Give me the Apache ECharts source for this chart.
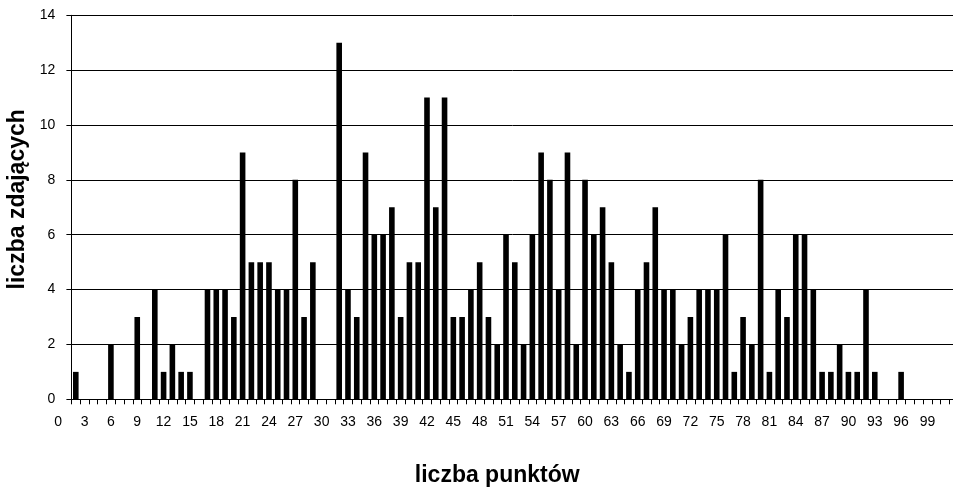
<!DOCTYPE html>
<html>
<head>
<meta charset="utf-8">
<title>liczba zdających</title>
<script src="https://cdn.jsdelivr.net/npm/echarts@6/dist/echarts.min.js"></script>
<style>
  html, body { margin: 0; padding: 0; background: #ffffff; }
  #chart { width: 953px; height: 489px; }
</style>
</head>
<body>
<div id="chart"></div>
<script>
// Tick labels printed under the category axis (every third one is shown)
const tickLabels = [
  '0','1','2','3','4','5','6','7','8','9','10','11','12','13','14','15','16','17','18','19',
  '20','21','22','23','24','25','26','27','28','29','30','31','32','33','34','35','36','37','38','39',
  '40','41','42','43','44','45','46','47','48','49','50','51','52','53','54','55','56','57','58','59',
  '60','61','62','63','64','65','66','67','68','69','70','71','72','73','74','75','76','77','78','79',
  '80','81','82','83','84','85','86','87','88','89','90','91','92','93','94','95','96','97','98','99','100'
];

// Score (liczba punktów) represented by each bar
const scores = [
  '2','3','4','5','6','7','8','9','10','11','12','13','14','15','16','17','18','19','20','21',
  '22','23','24','25','26','27','28','29','30','31','32','33','34','35','36','37','38','39','40','41',
  '42','43','44','45','46','47','48','49','50','51','52','53','54','55','56','57','58','59','60','61',
  '62','63','64','65','66','67','68','69','70','71','72','73','74','75','76','77','78','79','80','81',
  '82','83','84','85','86','87','88','89','90','91','92','93','94','95','96','97','98','99','100','101','102'
];

// Number of candidates (liczba zdających) with each score
const counts = [
  1, 0, 0, 0, 2, 0, 0, 3, 0, 4,
  1, 2, 1, 1, 0, 4, 4, 4, 3, 9,
  5, 5, 5, 4, 4, 8, 3, 5, 0, 0,
  13, 4, 3, 9, 6, 6, 7, 3, 5, 5,
  11, 7, 11, 3, 3, 4, 5, 3, 2, 6,
  5, 2, 6, 9, 8, 4, 9, 2, 8, 6,
  7, 5, 2, 1, 4, 5, 7, 4, 4, 2,
  3, 4, 4, 4, 6, 1, 3, 2, 8, 1,
  4, 3, 6, 6, 4, 1, 1, 2, 1, 1,
  4, 1, 0, 0, 1, 0, 0, 0, 0, 0, 0
];

// Value axis range
const yMin = 0;
const yMax = 14;
const yStep = 2;

const FONT = '"Liberation Sans", Arial, Helvetica, sans-serif';
const SLOT = 8.78;              // width of one category slot in px
const PLOT_LEFT = 71.4;
const PLOT_TOP = 15.3;
const PLOT_HEIGHT = 384;
const PLOT_WIDTH = SLOT * counts.length;

const chart = echarts.init(document.getElementById('chart'), null, { renderer: 'canvas' });

chart.setOption({
  animation: false,
  backgroundColor: '#ffffff',
  textStyle: { fontFamily: FONT, color: '#000' },
  grid: [
    // plot area with the bars
    { left: PLOT_LEFT, top: PLOT_TOP, width: PLOT_WIDTH, height: PLOT_HEIGHT,
      containLabel: false, outerBoundsMode: 'none' },
    // label band: shifted two slots to the left
    { left: PLOT_LEFT - 2 * SLOT, top: PLOT_TOP, width: SLOT * tickLabels.length, height: PLOT_HEIGHT,
      containLabel: false, outerBoundsMode: 'none' }
  ],
  xAxis: [
    {
      type: 'category',
      gridIndex: 0,
      data: scores,
      boundaryGap: true,
      axisLine: { show: true, lineStyle: { color: '#000', width: 1 } },
      axisTick: { show: true, interval: 0, length: 5, inside: false, lineStyle: { color: '#000' } },
      axisLabel: { show: false },
      splitLine: { show: false }
    },
    {
      type: 'category',
      gridIndex: 1,
      data: tickLabels,
      boundaryGap: true,
      axisLine: { show: false },
      axisTick: { show: false },
      axisLabel: { show: true, interval: 2, margin: 16, fontSize: 14, color: '#000', fontFamily: FONT },
      splitLine: { show: false },
      name: 'liczba punktów',
      nameLocation: 'middle',
      nameGap: 65,
      nameTextStyle: { fontSize: 23, fontWeight: 'bold', color: '#000', fontFamily: FONT }
    }
  ],
  yAxis: [
    {
      type: 'value',
      gridIndex: 0,
      min: yMin,
      max: yMax,
      interval: yStep,
      axisLine: { show: true, lineStyle: { color: '#000', width: 1 } },
      axisTick: { show: true, length: 5, lineStyle: { color: '#000' } },
      axisLabel: { fontSize: 14, color: '#000', margin: 16, fontFamily: FONT },
      splitLine: { show: true, lineStyle: { color: '#000', width: 1 } },
      name: 'liczba zdających',
      nameLocation: 'middle',
      nameRotate: 90,
      nameGap: 39,
      nameTextStyle: { fontSize: 23, fontWeight: 'bold', color: '#000', fontFamily: FONT, padding: [0, 0, 0, 16] }
    },
    {
      type: 'value',
      gridIndex: 1,
      min: yMin,
      max: yMax,
      show: false
    }
  ],
  series: [
    {
      type: 'bar',
      xAxisIndex: 0,
      yAxisIndex: 0,
      data: counts,
      barWidth: 5.6,
      itemStyle: { color: '#000' }
    }
  ]
});
</script>
</body>
</html>
